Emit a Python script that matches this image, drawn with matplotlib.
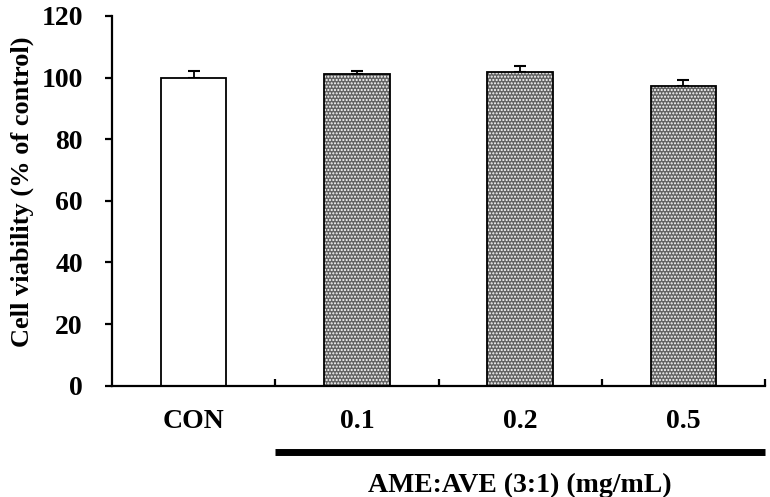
import matplotlib.pyplot as plt
from matplotlib.lines import Line2D
import numpy as np

plt.rcParams['font.family'] = ['Liberation Serif', 'DejaVu Serif']
plt.rcParams['font.weight'] = 'bold'
plt.rcParams['hatch.linewidth'] = 1.0

groups = ['CON', '0.1', '0.2', '0.5']
viability = [100.0, 101.2, 101.8, 97.1]
errors = [2.2, 1.0, 1.9, 2.2]
yticks = [0, 20, 40, 60, 80, 100, 120]
treat_label = 'AME:AVE (3:1) (mg/mL)'

fig = plt.figure(figsize=(7.7, 4.97), dpi=100)
ax = fig.add_axes([0.1455, 0.224, 0.848, 0.744])

x = np.arange(len(groups))
w = 0.4

# control bar white, treatments grey dotted
ax.bar(x[:1], viability[:1], w, color='white', edgecolor='black', linewidth=1.3, zorder=2)
ax.bar(x[1:], viability[1:], w, color='#626262', edgecolor='white', hatch='.....',
       linewidth=0, zorder=2)
ax.bar(x[1:], viability[1:], w, fill=False, edgecolor='black', linewidth=1.3, zorder=3)

ax.errorbar(x, viability, yerr=[np.zeros(len(x)), errors], fmt='none', ecolor='black',
            elinewidth=1.3, capsize=4, capthick=1.5, zorder=1)

ax.set_xlim(-0.5, 3.5)
ax.set_ylim(0, 120)
ax.set_yticks(yticks)
ax.set_xticks(x)
ax.set_xticklabels(groups)
ax.set_xticks([0.5, 1.5, 2.5, 3.5], minor=True)

for s in ['top', 'right']:
    ax.spines[s].set_visible(False)
for s in ['left', 'bottom']:
    ax.spines[s].set_linewidth(1.6)

ax.tick_params(axis='y', direction='out', length=5, width=1.6, labelsize=20, pad=16)
ax.tick_params(axis='x', which='major', length=0, labelsize=20, pad=17)
ax.tick_params(axis='x', which='minor', direction='in', length=5, width=1.6)

ax.set_ylabel('Cell viability (% of control)', fontsize=19, fontweight='bold',
              va='center')
ax.yaxis.set_label_coords(-0.137, 0.525)

# treatment bracket line and label below the axis
trans = ax.get_xaxis_transform()
ax.add_line(Line2D([0.5, 3.5], [-0.18, -0.18], transform=trans, linewidth=5,
                   color='black', solid_capstyle='butt', clip_on=False))
ax.text(2.0, -0.27, treat_label, transform=trans, ha='center',
        va='center', fontsize=20, fontweight='bold')

fig.savefig('out.png', dpi=100)
